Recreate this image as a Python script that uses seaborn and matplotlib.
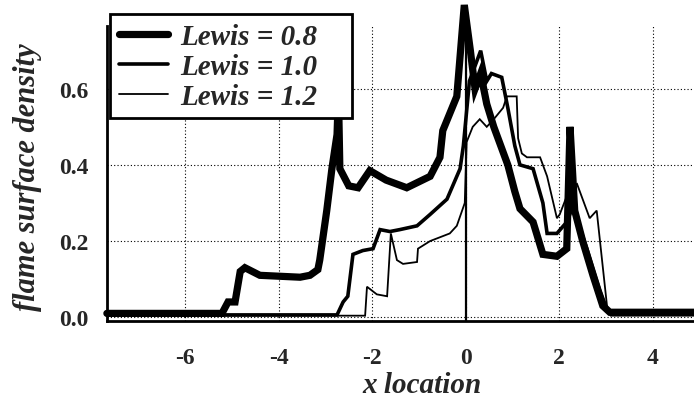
import numpy as np
import pandas as pd
import seaborn as sns
import matplotlib.pyplot as plt

# flame surface density vs x location, three Lewis numbers
x_le08 = [-7.67, -5.21, -5.08, -4.93, -4.82, -4.72, -4.40, -3.54, -3.33, -3.16, -3.12,
          -2.97, -2.86, -2.75, -2.72, -2.69, -2.50, -2.30, -2.05, -1.70, -1.26, -0.76,
          -0.55, -0.49, -0.19, -0.03, 0.10, 0.20, 0.32, 0.45, 0.60, 0.75, 0.90, 1.05,
          1.16, 1.44, 1.65, 1.95, 2.16, 2.23, 2.33, 2.50, 2.72, 2.93, 3.08, 4.90]
y_le08 = [0.010, 0.010, 0.040, 0.040, 0.120, 0.130, 0.110, 0.105, 0.110, 0.125, 0.150,
          0.280, 0.390, 0.480, 0.590, 0.390, 0.345, 0.340, 0.385, 0.360, 0.340, 0.370,
          0.420, 0.490, 0.580, 0.820, 0.700, 0.600, 0.640, 0.560, 0.500, 0.450, 0.400, 0.330,
          0.285, 0.250, 0.165, 0.160, 0.180, 0.500, 0.280, 0.200, 0.110, 0.030, 0.013, 0.013]

x_le10 = [-7.67, -2.75, -2.62, -2.52, -2.41, -2.20, -1.98, -1.83, -1.62, -1.41, -1.04,
          -0.76, -0.40, -0.12, -0.05, 0.08, 0.20, 0.32, 0.45, 0.55, 0.77, 0.90, 1.05,
          1.16, 1.44, 1.65, 1.74, 1.95, 2.16, 2.29, 2.59, 2.87, 3.02, 3.10, 4.90]
y_le10 = [0.006, 0.006, 0.040, 0.055, 0.165, 0.175, 0.180, 0.230, 0.225, 0.230, 0.240,
          0.270, 0.310, 0.390, 0.450, 0.620, 0.660, 0.700, 0.620, 0.640, 0.630, 0.550, 0.450,
          0.400, 0.390, 0.300, 0.220, 0.220, 0.250, 0.290, 0.180, 0.070, 0.020, 0.008, 0.008]

x_le12 = [-7.67, -2.15, -2.11, -1.90, -1.68, -1.60, -1.47, -1.34, -1.04, -1.02, -0.76,
          -0.34, -0.19, -0.02, 0.02, 0.15, 0.30, 0.45, 0.60, 0.80, 0.88, 1.09, 1.12,
          1.20, 1.31, 1.59, 1.74, 1.95, 2.01, 2.23, 2.38, 2.65, 2.80, 3.02, 3.10, 4.90]
y_le12 = [0.004, 0.004, 0.080, 0.060, 0.055, 0.220, 0.150, 0.140, 0.145, 0.180, 0.200,
          0.220, 0.240, 0.300, 0.460, 0.500, 0.520, 0.500, 0.520, 0.550, 0.580, 0.580, 0.470,
          0.430, 0.420, 0.420, 0.370, 0.260, 0.270, 0.340, 0.350, 0.260, 0.280, 0.030, 0.004, 0.004]

series = [("Lewis = 0.8", x_le08, y_le08, 5.2),
          ("Lewis = 1.0", x_le10, y_le10, 2.6),
          ("Lewis = 1.2", x_le12, y_le12, 1.3)]

sns.set_style("white")
plt.rcParams['font.family'] = ['Liberation Serif', 'DejaVu Serif']
plt.rcParams['font.weight'] = 'bold'
plt.rcParams['axes.unicode_minus'] = False

fig = plt.figure(figsize=(6.94, 4.02), dpi=100)
ax = fig.add_axes([0.154, 0.199, 0.846, 0.734])

for name, xs, ys, lw in series:
    df = pd.DataFrame({"x": xs, "y": ys})
    sns.lineplot(data=df, x="x", y="y", ax=ax, color="black", linewidth=lw,
                 estimator=None, sort=False, label=name, clip_on=False,
                 solid_joinstyle="miter")

ax.set_xlim(-7.67, 4.88)
ax.set_ylim(-0.01, 0.765)
ax.set_xticks([-6, -4, -2, 0, 2, 4])
ax.set_yticks([0.0, 0.2, 0.4, 0.6])
ax.set_yticklabels(["0.0", "0.2", "0.4", "0.6"])
ax.grid(True, linestyle=(0, (1, 2)), color="black", linewidth=0.8)
ax.axvline(0, color="black", linewidth=1.6, zorder=1)

for s in ["top", "right"]:
    ax.spines[s].set_visible(False)
for s in ["left", "bottom"]:
    ax.spines[s].set_linewidth(2)
    ax.spines[s].set_color("black")

ax.tick_params(axis="both", direction="out", length=9, width=2, color="black",
               labelsize=17, pad=4)
ax.tick_params(axis="x", pad=10)
for lab in ax.get_xticklabels() + ax.get_yticklabels():
    lab.set_fontweight("bold")

ax.set_xlabel("x location", fontsize=21, fontweight="bold", fontstyle="italic")
ax.xaxis.set_label_coords(0.537, -0.17)
ax.set_ylabel("flame surface density", fontsize=22, fontweight="bold", fontstyle="italic")
ax.yaxis.set_label_coords(-0.11, 0.49)

leg = ax.legend(loc="upper left", bbox_to_anchor=(0.005, 0.5, 0.412, 0.54), mode="expand",
                frameon=True, fancybox=False, shadow=False, framealpha=1, edgecolor="black",
                handlelength=1.7, handletextpad=0.4, borderpad=0.3, labelspacing=0.1,
                borderaxespad=0,
                prop={"family": "Liberation Serif", "weight": "bold", "style": "italic", "size": 21})
leg.get_frame().set_linewidth(2)
leg.set_zorder(5)

fig.savefig("out.png", dpi=100)
